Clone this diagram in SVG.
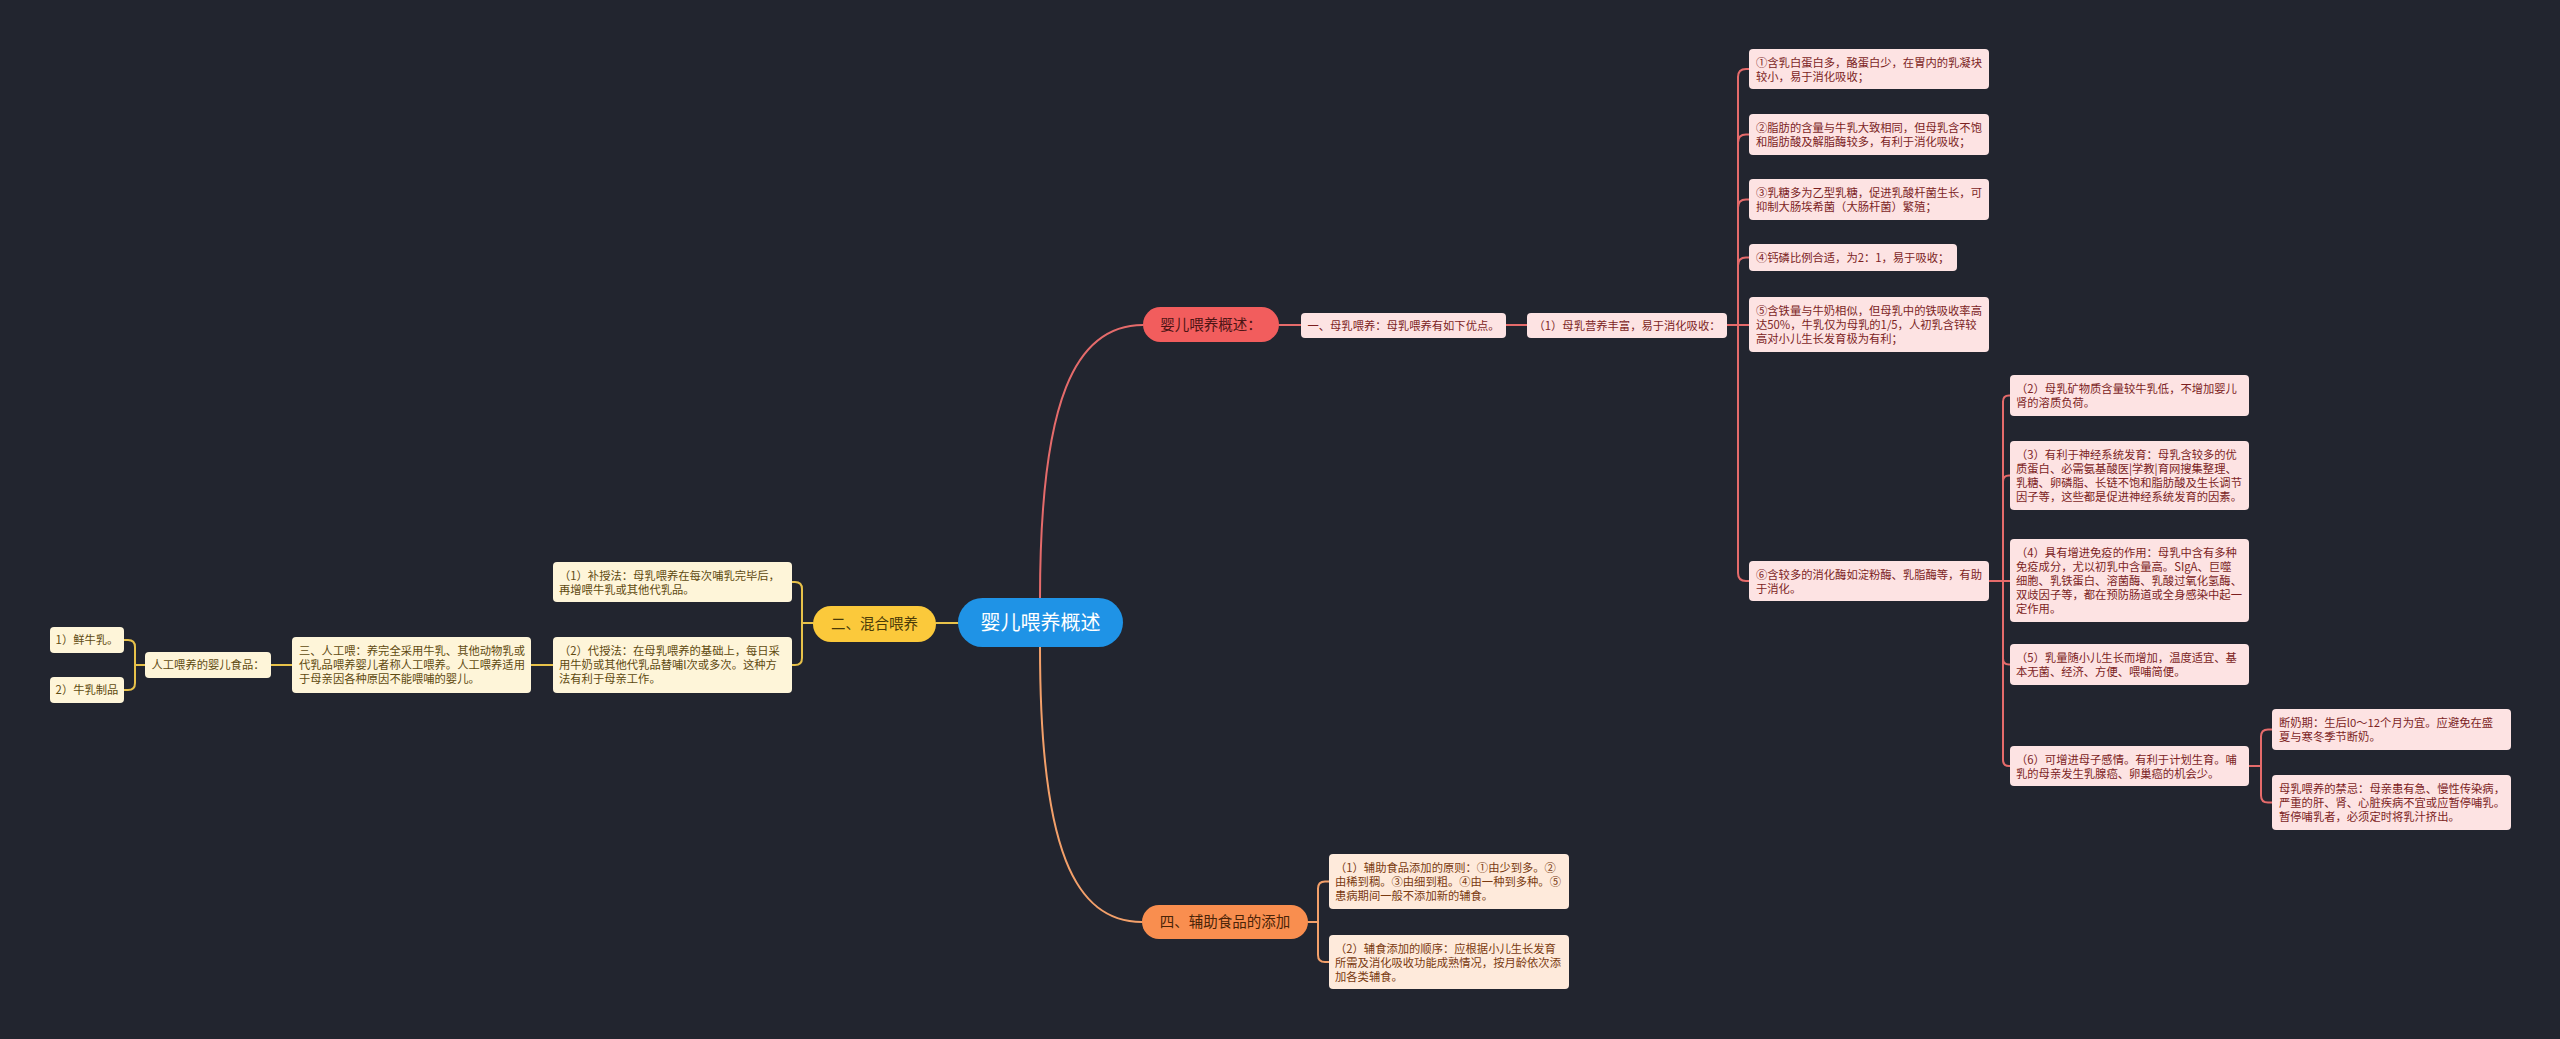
<svg xmlns="http://www.w3.org/2000/svg" width="2560" height="1039" viewBox="0 0 2560 1039">
<style>
text{font-family:"Noto Sans CJK SC","Noto Sans",sans-serif;}
.d{font-size:11.3px;}
.br{font-size:14.5px;text-anchor:middle;}
.c{fill:none;stroke-width:2;stroke-linecap:round;}
.cr{stroke:#e56b6b;}
.cy{stroke:#e8c24a;}
.co{stroke:#f3a06a;}
.rb{fill:#fde3e3;}
.rt{fill:#7c1f1f;}
.yb{fill:#fef5d9;}
.yt{fill:#5e4a10;}
.ob{fill:#feeadb;}
.ot{fill:#7a3a10;}
.mid{text-anchor:middle;}
</style>
<rect x="0" y="0" width="2560" height="1039" fill="#22252f"/>
<g id="connectors">
<path class="c cr" d="M1040,599 C1040,400 1075,325 1143,325"/>
<path class="c co" d="M1040,647 C1040,850 1075,922 1142,922"/>
<path class="c cy" d="M958,623 H936"/>
<path class="c cr" d="M1279,325 H1301"/>
<path class="c cr" d="M1506,325 H1527"/>
<path class="c cr" d="M1727,325 H1738 V77 Q1738,69 1746,69 H1749"/>
<path class="c cr" d="M1738,325 V142.5 Q1738,134.5 1746,134.5 H1749"/>
<path class="c cr" d="M1738,325 V207.5 Q1738,199.5 1746,199.5 H1749"/>
<path class="c cr" d="M1738,325 V265.5 Q1738,257.5 1746,257.5 H1749"/>
<path class="c cr" d="M1727,325 H1749"/>
<path class="c cr" d="M1738,325 V573 Q1738,581 1746,581 H1749"/>
<path class="c cr" d="M1989,581 H2003 V401.5 Q2003,395.5 2009,395.5 H2010"/>
<path class="c cr" d="M2003,581 V481.5 Q2003,475.5 2009,475.5 H2010"/>
<path class="c cr" d="M1989,581 H2010"/>
<path class="c cr" d="M2003,581 V658.5 Q2003,664.5 2009,664.5 H2010"/>
<path class="c cr" d="M2003,581 V760 Q2003,766 2009,766 H2010"/>
<path class="c cr" d="M2249,766 H2261 V736.5 Q2261,729.5 2268,729.5 H2272"/>
<path class="c cr" d="M2261,766 V795.5 Q2261,802.5 2268,802.5 H2272"/>
<path class="c co" d="M1308,922 H1318 V888.5 Q1318,881.5 1325,881.5 H1329"/>
<path class="c co" d="M1318,922 V955 Q1318,962 1325,962 H1329"/>
<path class="c cy" d="M813,623 H802 V589 Q802,582 795,582 H792"/>
<path class="c cy" d="M802,623 V658 Q802,665 795,665 H792"/>
<path class="c cy" d="M553,665 H531"/>
<path class="c cy" d="M292,665 H271"/>
<path class="c cy" d="M145,665 H135 V647 Q135,640 128,640 H124"/>
<path class="c cy" d="M135,665 V683 Q135,690 128,690 H124"/>
</g>
<g id="root">
<rect x="958" y="598" width="165" height="49" rx="24.5" fill="#1f93e6"/>
<text x="1040.5" y="630" class="mid" style="font-size:20px" fill="#ffffff">婴儿喂养概述</text>
</g>
<g id="n-overview">
<rect x="1143" y="307" width="136" height="35" rx="17.5" fill="#f25d5d"/>
<text x="1211" y="330" class="br" fill="#4d1414">婴儿喂养概述：</text>
</g>
<g id="n-breast">
<rect x="1301" y="313" width="205" height="25" rx="4" class="rb"/>
<text x="1403.5" y="330" class="d rt mid">一、母乳喂养：母乳喂养有如下优点。</text>
</g>
<g id="n-nutri">
<rect x="1527" y="313" width="200" height="25" rx="4" class="rb"/>
<text x="1627" y="330" class="d rt mid">（1）母乳营养丰富，易于消化吸收：</text>
</g>
<g id="n-a1">
<rect x="1749" y="49" width="240" height="40" rx="4" class="rb"/>
<text x="1756" y="67" class="d rt">①含乳白蛋白多，酪蛋白少，在胃内的乳凝块<tspan x="1756" dy="14">较小，易于消化吸收；</tspan></text>
</g>
<g id="n-a2">
<rect x="1749" y="114" width="240" height="41" rx="4" class="rb"/>
<text x="1756" y="132" class="d rt">②脂肪的含量与牛乳大致相同，但母乳含不饱<tspan x="1756" dy="14">和脂肪酸及解脂酶较多，有利于消化吸收；</tspan></text>
</g>
<g id="n-a3">
<rect x="1749" y="179" width="240" height="41" rx="4" class="rb"/>
<text x="1756" y="197" class="d rt">③乳糖多为乙型乳糖，促进乳酸杆菌生长，可<tspan x="1756" dy="14">抑制大肠埃希菌（大肠杆菌）繁殖；</tspan></text>
</g>
<g id="n-a4">
<rect x="1749" y="244" width="208" height="27" rx="4" class="rb"/>
<text x="1756" y="262" class="d rt">④钙磷比例合适，为2：1，易于吸收；</text>
</g>
<g id="n-a5">
<rect x="1749" y="297" width="240" height="55" rx="4" class="rb"/>
<text x="1756" y="315" class="d rt">⑤含铁量与牛奶相似，但母乳中的铁吸收率高<tspan x="1756" dy="14">达50%，牛乳仅为母乳的1/5，人初乳含锌较</tspan><tspan x="1756" dy="14">高对小儿生长发育极为有利；</tspan></text>
</g>
<g id="n-a6">
<rect x="1749" y="561" width="240" height="40" rx="4" class="rb"/>
<text x="1756" y="579" class="d rt">⑥含较多的消化酶如淀粉酶、乳脂酶等，有助<tspan x="1756" dy="14">于消化。</tspan></text>
</g>
<g id="n-b2">
<rect x="2010" y="375" width="239" height="41" rx="4" class="rb"/>
<text x="2016" y="393" class="d rt">（2）母乳矿物质含量较牛乳低，不增加婴儿<tspan x="2016" dy="14">肾的溶质负荷。</tspan></text>
</g>
<g id="n-b3">
<rect x="2010" y="441" width="239" height="69" rx="4" class="rb"/>
<text x="2016" y="459" class="d rt">（3）有利于神经系统发育：母乳含较多的优<tspan x="2016" dy="14">质蛋白、必需氨基酸医|学教|育网搜集整理、</tspan><tspan x="2016" dy="14">乳糖、卵磷脂、长链不饱和脂肪酸及生长调节</tspan><tspan x="2016" dy="14">因子等，这些都是促进神经系统发育的因素。</tspan></text>
</g>
<g id="n-b4">
<rect x="2010" y="539" width="239" height="83" rx="4" class="rb"/>
<text x="2016" y="557" class="d rt">（4）具有增进免疫的作用：母乳中含有多种<tspan x="2016" dy="14">免疫成分，尤以初乳中含量高。SIgA、巨噬</tspan><tspan x="2016" dy="14">细胞、乳铁蛋白、溶菌酶、乳酸过氧化氢酶、</tspan><tspan x="2016" dy="14">双歧因子等，都在预防肠道或全身感染中起一</tspan><tspan x="2016" dy="14">定作用。</tspan></text>
</g>
<g id="n-b5">
<rect x="2010" y="644" width="239" height="41" rx="4" class="rb"/>
<text x="2016" y="662" class="d rt">（5）乳量随小儿生长而增加，温度适宜、基<tspan x="2016" dy="14">本无菌、经济、方便、喂哺简便。</tspan></text>
</g>
<g id="n-b6">
<rect x="2010" y="746" width="239" height="40" rx="4" class="rb"/>
<text x="2016" y="764" class="d rt">（6）可增进母子感情。有利于计划生育。哺<tspan x="2016" dy="14">乳的母亲发生乳腺癌、卵巢癌的机会少。</tspan></text>
</g>
<g id="n-c1">
<rect x="2272" y="709" width="239" height="41" rx="4" class="rb"/>
<text x="2279" y="727" class="d rt">断奶期：生后l0～12个月为宜。应避免在盛<tspan x="2279" dy="14">夏与寒冬季节断奶。</tspan></text>
</g>
<g id="n-c2">
<rect x="2272" y="775" width="239" height="55" rx="4" class="rb"/>
<text x="2279" y="793" class="d rt">母乳喂养的禁忌：母亲患有急、慢性传染病，<tspan x="2279" dy="14">严重的肝、肾、心脏疾病不宜或应暂停哺乳。</tspan><tspan x="2279" dy="14">暂停哺乳者，必须定时将乳汁挤出。</tspan></text>
</g>
<g id="n-supp">
<rect x="1142" y="905" width="166" height="34" rx="17" fill="#f98e4f"/>
<text x="1225" y="927" class="br" fill="#4a2408">四、辅助食品的添加</text>
</g>
<g id="n-s1">
<rect x="1329" y="854" width="240" height="55" rx="4" class="ob"/>
<text x="1335" y="872" class="d ot">（1）辅助食品添加的原则：①由少到多。②<tspan x="1335" dy="14">由稀到稠。③由细到粗。④由一种到多种。⑤</tspan><tspan x="1335" dy="14">患病期间一般不添加新的辅食。</tspan></text>
</g>
<g id="n-s2">
<rect x="1329" y="935" width="240" height="54" rx="4" class="ob"/>
<text x="1335" y="953" class="d ot">（2）辅食添加的顺序：应根据小儿生长发育<tspan x="1335" dy="14">所需及消化吸收功能成熟情况，按月龄依次添</tspan><tspan x="1335" dy="14">加各类辅食。</tspan></text>
</g>
<g id="n-mixed">
<rect x="813" y="606" width="123" height="36" rx="18" fill="#fbc93b"/>
<text x="874.5" y="629" class="br" fill="#4a3a08">二、混合喂养</text>
</g>
<g id="n-m1">
<rect x="553" y="562" width="239" height="40" rx="4" class="yb"/>
<text x="559" y="580" class="d yt">（1）补授法：母乳喂养在每次哺乳完毕后，<tspan x="559" dy="14">再增喂牛乳或其他代乳品。</tspan></text>
</g>
<g id="n-m2">
<rect x="553" y="637" width="239" height="56" rx="4" class="yb"/>
<text x="559" y="655" class="d yt">（2）代授法：在母乳喂养的基础上，每日采<tspan x="559" dy="14">用牛奶或其他代乳品替哺l次或多次。这种方</tspan><tspan x="559" dy="14">法有利于母亲工作。</tspan></text>
</g>
<g id="n-art">
<rect x="292" y="637" width="239" height="56" rx="4" class="yb"/>
<text x="299" y="655" class="d yt">三、人工喂：养完全采用牛乳、其他动物乳或<tspan x="299" dy="14">代乳品喂养婴儿者称人工喂养。人工喂养适用</tspan><tspan x="299" dy="14">于母亲因各种原因不能喂哺的婴儿。</tspan></text>
</g>
<g id="n-food">
<rect x="145" y="652" width="126" height="26" rx="4" class="yb"/>
<text x="208" y="669" class="d yt mid">人工喂养的婴儿食品：</text>
</g>
<g id="n-f1">
<rect x="50" y="627" width="74" height="26" rx="4" class="yb"/>
<text x="87" y="644" class="d yt mid">1）鲜牛乳。</text>
</g>
<g id="n-f2">
<rect x="50" y="677" width="74" height="26" rx="4" class="yb"/>
<text x="87" y="694" class="d yt mid">2）牛乳制品</text>
</g>
</svg>
